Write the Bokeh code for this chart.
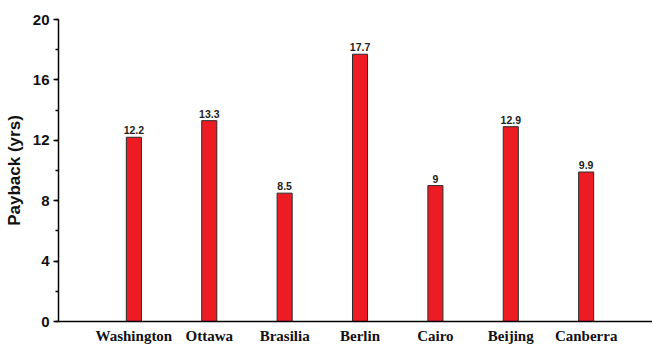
from bokeh.plotting import figure
from bokeh.models import ColumnDataSource, Range1d, FixedTicker, SingleIntervalTicker
from bokeh.core.properties import value
from bokeh.embed import file_html
from bokeh.resources import INLINE

# Payback period per city
cities = ["Washington", "Ottawa", "Brasilia", "Berlin", "Cairo", "Beijing", "Canberra"]
payback = [12.2, 13.3, 8.5, 17.7, 9.0, 12.9, 9.9]
y_ticks = [0, 4, 8, 12, 16, 20]

positions = list(range(1, len(cities) + 1))
labels = [f"{v:g}" for v in payback]

source = ColumnDataSource(dict(x=positions, top=payback, label=labels))

p = figure(
    width=652, height=347,
    x_range=Range1d(0, 7.88), y_range=Range1d(0, 20),
    output_backend="svg", toolbar_location=None,
    min_border_left=58, min_border_right=0,
    min_border_top=19, min_border_bottom=26,
)
p.outline_line_color = None
p.grid.visible = False
p.background_fill_color = "white"
p.border_fill_color = "white"

p.vbar(x="x", top="top", width=0.2, source=source,
       fill_color="#ED1C24", line_color="#2a2a2a", line_width=1)

p.text(x="x", y="top", text="label", source=source,
       text_align="center", text_baseline="bottom", y_offset=-3,
       text_font=value("Liberation Sans"), text_font_style="bold",
       text_font_size="10.5px", text_color="#222222")

# x axis: city names, no tick marks
xa = p.xaxis[0]
xa.ticker = FixedTicker(ticks=positions)
xa.major_label_overrides = {i: c for i, c in zip(positions, cities)}
xa.major_tick_line_color = None
xa.minor_tick_line_color = None
xa.major_tick_out = 0
xa.major_tick_in = 0
xa.minor_tick_out = 0
xa.minor_tick_in = 0
xa.axis_line_color = "black"
xa.axis_line_width = 1.5
xa.major_label_standoff = 6
xa.major_label_text_font = "Liberation Serif"
xa.major_label_text_font_style = "bold"
xa.major_label_text_font_size = "15px"
xa.major_label_text_color = "#111111"

# y axis
ya = p.yaxis[0]
ya.ticker = SingleIntervalTicker(interval=4, num_minor_ticks=2)
ya.axis_line_color = "black"
ya.axis_line_width = 1.5
ya.major_tick_line_color = "black"
ya.major_tick_line_width = 1.5
ya.major_tick_out = 5
ya.major_tick_in = 0
ya.minor_tick_line_color = "black"
ya.minor_tick_line_width = 1.5
ya.minor_tick_out = 3
ya.minor_tick_in = 0
ya.major_label_standoff = 4
ya.major_label_text_font = "Liberation Sans"
ya.major_label_text_font_style = "bold"
ya.major_label_text_font_size = "15px"
ya.major_label_text_color = "#111111"
ya.axis_label = "Payback (yrs)"
ya.axis_label_text_font = "Liberation Sans"
ya.axis_label_text_font_style = "bold"
ya.axis_label_text_font_size = "17px"
ya.axis_label_text_color = "#111111"
ya.axis_label_standoff = 6

open("out.html", "w").write(file_html(p, INLINE))
